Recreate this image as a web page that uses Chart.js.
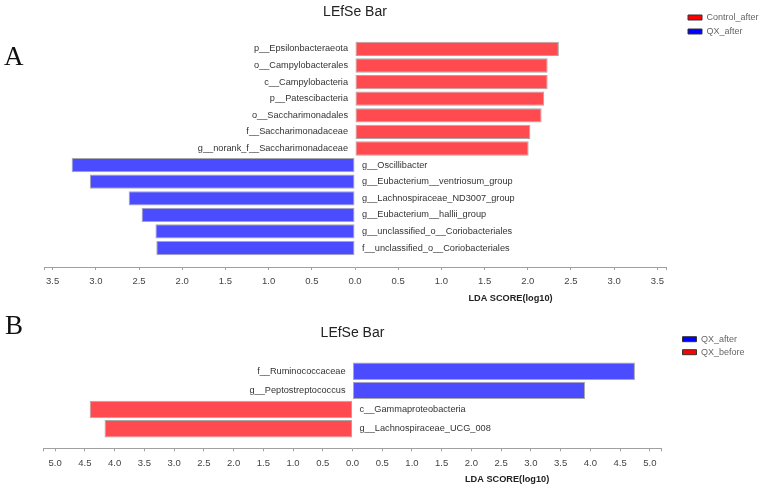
<!DOCTYPE html>
<html>
<head>
<meta charset="utf-8">
<script src="https://cdn.jsdelivr.net/npm/chart.js@4.4.1/dist/chart.umd.min.js"></script>
<style>
  body { margin: 0; background: #fff; }
  #page { position: relative; width: 762px; height: 487px; overflow: hidden; }
  canvas { position: absolute; left: 0; }
  #chartA { top: 0; }
  #chartB { top: 305px; }
  .letter {
    position: absolute;
    font-family: "Liberation Serif", "DejaVu Serif", serif;
    font-size: 27px;
    line-height: 27px;
    color: #111;
  }
</style>
</head>
<body>
<div id="page">
  <canvas id="chartA" width="762" height="305"></canvas>
  <canvas id="chartB" width="762" height="182"></canvas>
  <div class="letter" style="left: 4px; top: 43px;">A</div>
  <div class="letter" style="left: 5px; top: 312px;">B</div>
</div>
<script>
// panel A
const labelsA = [
  'p__Epsilonbacteraeota',
  'o__Campylobacterales',
  'c__Campylobacteria',
  'p__Patescibacteria',
  'o__Saccharimonadales',
  'f__Saccharimonadaceae',
  'g__norank_f__Saccharimonadaceae',
  'g__Oscillibacter',
  'g__Eubacterium__ventriosum_group',
  'g__Lachnospiraceae_ND3007_group',
  'g__Eubacterium__hallii_group',
  'g__unclassified_o__Coriobacteriales',
  'f__unclassified_o__Coriobacteriales'
]
const controlAfterA = [2.36, 2.23, 2.23, 2.19, 2.16, 2.03, 2.01]
const qxAfterA = [3.28, 3.07, 2.62, 2.47, 2.31, 2.30]
const ticksA = [-3.5, -3.0, -2.5, -2.0, -1.5, -1.0, -0.5, 0, 0.5, 1.0, 1.5, 2.0, 2.5, 3.0, 3.5]

// panel B
const labelsB = [
  'f__Ruminococcaceae',
  'g__Peptostreptococcus',
  'c__Gammaproteobacteria',
  'g__Lachnospiraceae_UCG_008'
]
const qxAfterB = [4.75, 3.91]
const qxBeforeB = [4.42, 4.17]
const ticksB = [-5.0, -4.5, -4.0, -3.5, -3.0, -2.5, -2.0, -1.5, -1.0, -0.5, 0, 0.5, 1.0, 1.5, 2.0, 2.5, 3.0, 3.5, 4.0, 4.5, 5.0]

const RED = '#ff4b50'
const BLUE = '#4b4bff'

Chart.defaults.font.family = '"Liberation Sans", Arial, sans-serif'

// names drawn next to the zero line, opposite side of the bar
const barNames = {
  id: 'barNames',
  afterDatasetsDraw(chart) {
    const { ctx } = chart
    const zero = chart.scales.x.getPixelForValue(0)
    ctx.save()
    ctx.font = '9.2px "Liberation Sans", Arial, sans-serif'
    ctx.fillStyle = '#333'
    ctx.textBaseline = 'middle'
    chart.data.datasets.forEach((ds, di) => {
      chart.getDatasetMeta(di).data.forEach((bar, i) => {
        const point = ds.data[i]
        const pos = point.x > 0
        ctx.textAlign = pos ? 'right' : 'left'
        ctx.fillText(point.name, pos ? zero - 7 : zero + 7, bar.y)
      })
    })
    ctx.restore()
  }
}

// "LDA SCORE(log10)" sits under the positive half of the axis
const axisName = {
  id: 'axisName',
  afterDraw(chart) {
    const { ctx } = chart
    const x = chart.scales.x
    ctx.save()
    ctx.font = 'bold 9.2px "Liberation Sans", Arial, sans-serif'
    ctx.fillStyle = '#222'
    ctx.textAlign = 'center'
    ctx.textBaseline = 'middle'
    ctx.fillText('LDA SCORE(log10)', (x.getPixelForValue(0) + x.right) / 2, x.top + 31)
    ctx.restore()
  }
}

const buildChart = (id, panel) => {
  const { labels, groups, ticks, limit } = panel
  let start = 0
  const datasets = groups.map((group, g) => {
    const sign = g === 0 ? 1 : -1
    const data = group.values.map((v, i) => ({
      x: sign * v,
      y: start + i,
      name: labels[start + i]
    }))
    start += group.values.length
    return {
      label: group.name,
      data,
      backgroundColor: group.color,
      borderColor: '#a8a8a8',
      borderWidth: 1,
      borderSkipped: false,
      grouped: false,
      categoryPercentage: 1,
      barPercentage: panel.barPercentage
    }
  })

  return new Chart(document.getElementById(id), {
    type: 'bar',
    data: { datasets },
    plugins: [barNames, axisName],
    options: {
      indexAxis: 'y',
      responsive: false,
      animation: false,
      events: [],
      layout: { padding: panel.padding },
      scales: {
        x: {
          type: 'linear',
          min: -limit,
          max: limit,
          afterBuildTicks: (scale) => {
            scale.ticks = [-limit, ...ticks, limit].map((value) => ({ value }))
          },
          grid: { drawOnChartArea: false, tickLength: 3, color: '#a0a0a0' },
          border: { color: '#a0a0a0' },
          ticks: {
            autoSkip: false,
            maxRotation: 0,
            padding: 6,
            color: '#444',
            font: { size: 9.5 },
            callback: (v) => (Math.abs(v) === limit ? '' : Math.abs(v).toFixed(1))
          }
        },
        y: {
          type: 'linear',
          position: 'right',
          reverse: true,
          offset: false,
          min: -0.5,
          max: labels.length - 0.5 + panel.gap,
          afterBuildTicks: (scale) => {
            scale.ticks = labels.map((_, i) => ({ value: i }))
          },
          afterFit: (scale) => {
            scale.width = panel.spacer
          },
          ticks: { display: false },
          grid: { display: false },
          border: { display: false }
        }
      },
      plugins: {
        title: {
          display: true,
          text: 'LEfSe Bar',
          fullSize: false,
          color: '#222',
          font: { size: 14, weight: 'normal' },
          padding: panel.titlePadding
        },
        legend: {
          position: 'right',
          align: 'start',
          maxWidth: panel.legendWidth,
          title: {
            display: true,
            text: '',
            padding: 0,
            font: { size: panel.legendOffset, lineHeight: 1 }
          },
          labels: {
            boxWidth: 14,
            boxHeight: 5,
            padding: panel.legendGap,
            color: '#666',
            font: { size: 9 },
            generateLabels: (chart) =>
              chart.data.datasets.map((ds, i) => ({
                text: ds.label,
                fillStyle: groups[i].legendColor,
                strokeStyle: '#333',
                lineWidth: 1,
                hidden: false,
                datasetIndex: i
              }))
          }
        },
        tooltip: { enabled: false }
      }
    }
  })
}

buildChart('chartA', {
  labels: labelsA,
  groups: [
    { name: 'Control_after', values: controlAfterA, color: RED, legendColor: '#ff0000' },
    { name: 'QX_after', values: qxAfterA, color: BLUE, legendColor: '#0000ff' }
  ],
  ticks: ticksA,
  limit: 3.6,
  gap: 0.64,
  barPercentage: 0.86,
  spacer: 17,
  padding: { left: 44, right: 0, top: 0, bottom: 11.6 },
  titlePadding: { top: 4, bottom: 19.8 },
  legendWidth: 79,
  legendOffset: 8,
  legendGap: 5
})

buildChart('chartB', {
  labels: labelsB,
  groups: [
    { name: 'QX_after', values: qxAfterB, color: BLUE, legendColor: '#0000ff' },
    { name: 'QX_before', values: qxBeforeB, color: RED, legendColor: '#ff0000' }
  ],
  ticks: ticksB,
  limit: 5.2,
  gap: 0.52,
  barPercentage: 0.91,
  spacer: 16.8,
  padding: { left: 43.3, right: 13.5, top: 0, bottom: 12.3 },
  titlePadding: { top: 19.6, bottom: 20.2 },
  legendWidth: 70,
  legendOffset: 25.7,
  legendGap: 4
})
</script>
</body>
</html>
